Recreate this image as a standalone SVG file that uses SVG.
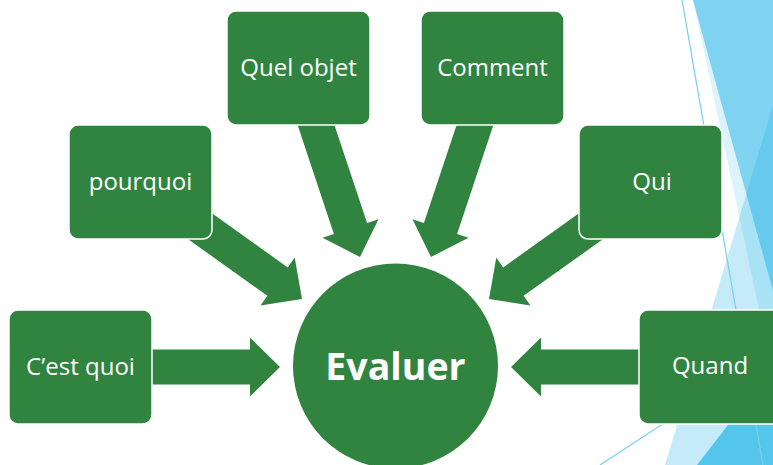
<svg xmlns="http://www.w3.org/2000/svg" width="773" height="465" viewBox="0 0 773 465">
  <style>
    .facet { fill: #1FB2E5; }
    .thin { stroke: #74D0F0; stroke-width: 1.2; fill: none; }
    .arrow { fill: #31843F; }
    .box { fill: #31843F; stroke: #FFFFFF; stroke-width: 1.5; }
    .lbl { font-family: "Open Sans", "Liberation Sans", sans-serif; font-size: 24px; fill: #FFFFFF; text-anchor: middle; }
    .hub { fill: #31843F; }
    .hubtxt { font-family: "Open Sans", "Liberation Sans", sans-serif; font-size: 37.5px; font-weight: bold; fill: #FFFFFF; text-anchor: middle; }
  </style>
  <rect width="773" height="465" fill="#FFFFFF"/>
  <g id="background">
    <polygon class="facet" fill-opacity="0.16" points="693,0 773,0 773,375"/>
    <polygon class="facet" fill-opacity="0.26" points="773,105 665,465 773,465"/>
    <polygon class="facet" fill-opacity="0.49" points="693,0 773,0 773,291"/>
    <polygon class="facet" fill-opacity="0.68" points="773,367 697,465 773,465"/>
    <line class="thin" x1="682" y1="0" x2="763" y2="465"/>
    <line class="thin" x1="600" y1="465" x2="773" y2="352"/>
  </g>
  <g id="connectors">
    <polygon class="arrow" points="140,349.5 250,349.5 250,337.5 280,367 250,396.5 250,384.5 140,384.5"/>
    <polygon class="arrow" points="651,349.5 541,349.5 541,337.5 511,367 541,396.5 541,384.5 651,384.5"/>
    <polygon class="arrow" points="205,208.3 287.8,267.4 294.7,257.6 302,299 260.5,305.6 267.4,295.8 178,232"/>
    <polygon class="arrow" points="586,208.3 503.2,267.4 496.3,257.6 489,299 530.5,305.6 523.6,295.8 613,232"/>
    <polygon class="arrow" points="294.3,115 333.9,234 322.5,237.8 360,257 378.5,219.2 367.1,223 331.1,115"/>
    <polygon class="arrow" points="496.7,115 457.1,234 468.5,237.8 431,257 412.5,219.2 423.9,223 459.9,115"/>
  </g>
  <g id="node-evaluer">
    <circle class="hub" cx="395.5" cy="366" r="102.5"/>
    <text class="hubtxt" x="395.5" y="380">Evaluer</text>
  </g>
  <g id="node-cestquoi">
    <rect class="box" x="9" y="310" width="143" height="114" rx="9"/>
    <text class="lbl" x="80.5" y="375">C’est quoi</text>
  </g>
  <g id="node-pourquoi">
    <rect class="box" x="69" y="125" width="143" height="114" rx="9"/>
    <text class="lbl" x="140.5" y="190">pourquoi</text>
  </g>
  <g id="node-quelobjet">
    <rect class="box" x="227" y="11" width="143" height="114" rx="9"/>
    <text class="lbl" x="298.5" y="76">Quel objet</text>
  </g>
  <g id="node-comment">
    <rect class="box" x="421" y="11" width="143" height="114" rx="9"/>
    <text class="lbl" x="492.5" y="76">Comment</text>
  </g>
  <g id="node-qui">
    <rect class="box" x="579" y="125" width="143" height="114" rx="9"/>
    <text class="lbl" x="652" y="190">Qui</text>
  </g>
  <g id="node-quand">
    <rect class="box" x="639" y="310" width="143" height="114" rx="9"/>
    <text class="lbl" x="710" y="374">Quand</text>
  </g>
</svg>
